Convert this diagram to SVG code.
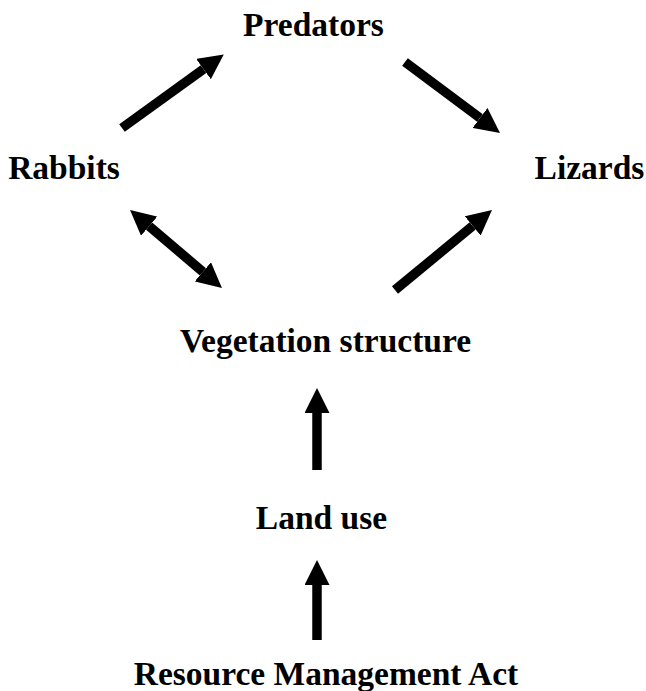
<svg xmlns="http://www.w3.org/2000/svg" width="646" height="691" viewBox="0 0 646 691">
<style>
.lbl{font-family:"Liberation Serif","Times New Roman",serif;font-weight:bold;font-size:33.5px;fill:#000;text-anchor:middle}
.arr{stroke:#000;stroke-width:9.5;fill:none;stroke-linecap:butt}
</style>
<defs>
<marker id="head" viewBox="0 0 25 25" refX="0" refY="12.5" markerWidth="25" markerHeight="25" markerUnits="userSpaceOnUse" orient="auto-start-reverse">
<path d="M0,0 L25,12.5 L0,25 z" fill="#000"/>
</marker>
</defs>
<rect width="646" height="691" fill="#fff"/>
<g id="connectors">
<line class="arr" x1="122" y1="128" x2="203.5" y2="69.1" marker-end="url(#head)"/>
<line class="arr" x1="405" y1="62" x2="480" y2="118" marker-end="url(#head)"/>
<line class="arr" x1="149.1" y1="226.2" x2="202.9" y2="271.8" marker-start="url(#head)" marker-end="url(#head)"/>
<line class="arr" x1="395" y1="290" x2="472.7" y2="225.9" marker-end="url(#head)"/>
<line class="arr" x1="317" y1="470" x2="317" y2="413" marker-end="url(#head)"/>
<line class="arr" x1="317" y1="640" x2="317" y2="585" marker-end="url(#head)"/>
</g>
<g id="predators"><text class="lbl" x="313.5" y="36">Predators</text></g>
<g id="rabbits"><text class="lbl" x="64" y="179">Rabbits</text></g>
<g id="lizards"><text class="lbl" x="589.5" y="179">Lizards</text></g>
<g id="vegetation"><text class="lbl" x="325.5" y="352">Vegetation structure</text></g>
<g id="landuse"><text class="lbl" x="321.5" y="529">Land use</text></g>
<g id="rma"><text class="lbl" x="326" y="685">Resource Management Act</text></g>
</svg>
